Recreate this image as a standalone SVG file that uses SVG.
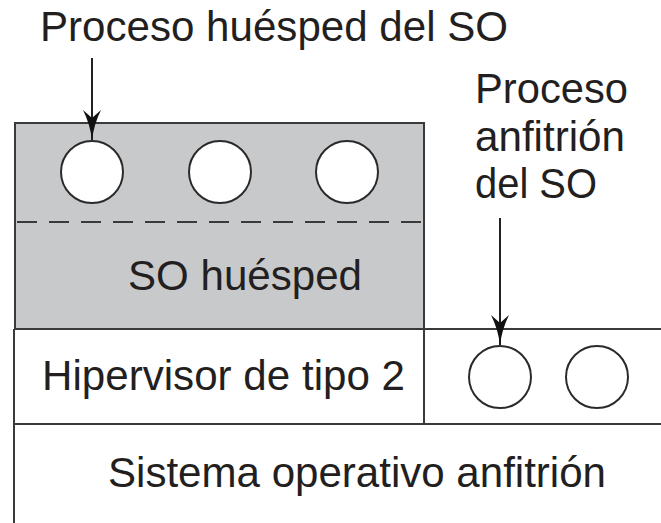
<svg xmlns="http://www.w3.org/2000/svg" width="661" height="523" viewBox="0 0 661 523">
<defs>
<style>
.t{font-family:"Liberation Sans",Arial,sans-serif;font-size:42px;fill:#231f20;}
.ln{stroke:#3a3a3a;stroke-width:2;fill:none;}
.proc{fill:#ffffff;stroke:#2a2a2a;stroke-width:2;}
.arr{stroke:#222;stroke-width:2;fill:none;}
</style>
<marker id="ah" viewBox="0 0 30 18" refX="30" refY="9" markerWidth="30" markerHeight="18" markerUnits="userSpaceOnUse" orient="auto">
<path d="M30,9 Q14,7 0,0 L8,9 L0,18 Q14,11 30,9 Z" fill="#111"/>
</marker>
</defs>
<rect width="661" height="523" fill="#ffffff"/>
<g id="so-huesped">
<rect x="15" y="123" width="409" height="206" fill="#c8c9cb" stroke="#3a3a3a" stroke-width="2"/>
<line x1="17" y1="222" x2="424" y2="222" stroke="#3a3a3a" stroke-width="2" stroke-dasharray="20,12"/>
<text class="t" x="128" y="290" textLength="234" lengthAdjust="spacingAndGlyphs">SO huésped</text>
</g>
<g id="procesos-huesped">
<circle class="proc" cx="92" cy="172" r="31"/>
<circle class="proc" cx="220" cy="172" r="31"/>
<circle class="proc" cx="347" cy="172" r="31"/>
</g>
<g id="hipervisor">
<line class="ln" x1="14" y1="329" x2="14" y2="523"/>
<line class="ln" x1="424" y1="329" x2="661" y2="329"/>
<line class="ln" x1="424" y1="329" x2="424" y2="424"/>
<text class="t" x="42" y="390" textLength="363" lengthAdjust="spacingAndGlyphs">Hipervisor de tipo 2</text>
</g>
<g id="procesos-anfitrion">
<circle class="proc" cx="500" cy="377" r="31"/>
<circle class="proc" cx="597" cy="377" r="31"/>
</g>
<g id="so-anfitrion">
<line class="ln" x1="14" y1="424" x2="661" y2="424"/>
<text class="t" x="108" y="487" textLength="498" lengthAdjust="spacingAndGlyphs">Sistema operativo anfitrión</text>
</g>
<g id="etiqueta-huesped">
<text class="t" x="40" y="41" textLength="468" lengthAdjust="spacingAndGlyphs">Proceso huésped del SO</text>
</g>
<g id="etiqueta-anfitrion">
<text class="t" x="475" y="103" textLength="153" lengthAdjust="spacingAndGlyphs">Proceso</text>
<text class="t" x="475" y="151" textLength="150" lengthAdjust="spacingAndGlyphs">anfitrión</text>
<text class="t" x="475" y="198" textLength="122" lengthAdjust="spacingAndGlyphs">del SO</text>
</g>
<g id="conectores">
<line class="arr" x1="92" y1="58" x2="92" y2="140" marker-end="url(#ah)"/>
<line class="arr" x1="500" y1="218" x2="500" y2="345" marker-end="url(#ah)"/>
</g>
</svg>
